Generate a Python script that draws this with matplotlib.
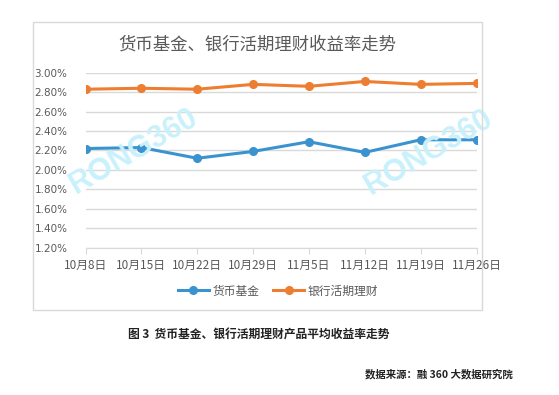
import matplotlib
matplotlib.use("Agg")
import matplotlib.pyplot as plt
from matplotlib.patches import Rectangle
from matplotlib.ticker import FuncFormatter

plt.rcParams['font.family'] = ['Noto Sans CJK SC', 'DejaVu Sans']

categories = ["10月8日", "10月15日", "10月22日", "10月29日", "11月5日", "11月12日", "11月19日", "11月26日"]
money_fund = [2.22, 2.23, 2.12, 2.19, 2.29, 2.18, 2.31, 2.31]
bank_demand = [2.83, 2.84, 2.83, 2.88, 2.86, 2.91, 2.88, 2.89]
yticks = [1.2, 1.4, 1.6, 1.8, 2.0, 2.2, 2.4, 2.6, 2.8, 3.0]

W, H = 559, 395
fig = plt.figure(figsize=(W / 100, H / 100), dpi=100)

# chart box
fig.patches.append(Rectangle((33 / W, 1 - 310 / H), (482 - 33) / W, (310 - 22) / H,
                             transform=fig.transFigure, fill=False,
                             edgecolor="#D9D9D9", linewidth=1.0))

# watermarks (behind the axes)
for (wx, wy) in [(134, 152), (429, 153)]:
    fig.text(wx / W, 1 - wy / H, "RONG360", ha="center", va="center", rotation=30,
             fontsize=22, fontweight="bold", color="#C9F1FB", family=['Liberation Sans'], zorder=0)

ax = fig.add_axes([85.5 / W, 1 - 247.7 / H, (476.5 - 85.5) / W, (247.7 - 72.7) / H])
ax.patch.set_alpha(0)
x = list(range(len(categories)))
blue = "#3A93CF"
orange = "#ED7D31"
ax.plot(x, money_fund, color=blue, lw=2.2, marker="o", ms=5.5, label="货币基金", zorder=3)
ax.plot(x, bank_demand, color=orange, lw=2.2, marker="o", ms=5.5, label="银行活期理财", zorder=3)

ax.set_xlim(0, len(categories) - 1)
ax.set_ylim(1.2, 3.0)
ax.set_yticks(yticks)
ax.yaxis.set_major_formatter(FuncFormatter(lambda v, p: f"{v:.2f}%"))
ax.set_xticks(x)
ax.set_xticklabels(categories)
ax.grid(axis="y", color="#D9D9D9", lw=1.0)
ax.set_axisbelow(True)
for s in ["top", "right", "left"]:
    ax.spines[s].set_visible(False)
ax.spines["bottom"].set_color("#D9D9D9")
ax.tick_params(axis="y", length=0, labelsize=8, labelcolor="#595959", pad=13)
ax.tick_params(axis="x", length=4, color="#D9D9D9", labelsize=8.5, labelcolor="#595959", pad=4)
for lab in ax.get_yticklabels():
    lab.set_family(['DejaVu Sans'])
    lab.set_fontsize(7.5)

fig.text(257 / W, 1 - 45 / H, "货币基金、银行活期理财收益率走势", ha="center", va="center",
         fontsize=12.5, color="#595959")

leg = ax.legend(loc="center", bbox_to_anchor=(278 / W, 1 - 291 / H), bbox_transform=fig.transFigure,
                ncol=2, frameon=False, fontsize=8.5, handlelength=2.6, columnspacing=1.2,
                handletextpad=0.3)
for t in leg.get_texts():
    t.set_color("#595959")

fig.text(259 / W, 1 - 335 / H, "图 3  货币基金、银行活期理财产品平均收益率走势", ha="center", va="center",
         fontsize=8.5, fontweight="bold", color="#222222")
fig.text(513 / W, 1 - 374 / H, "数据来源：融 360 大数据研究院", ha="right", va="center",
         fontsize=7.5, fontweight="bold", color="#222222")

fig.savefig("out.png", dpi=100)
